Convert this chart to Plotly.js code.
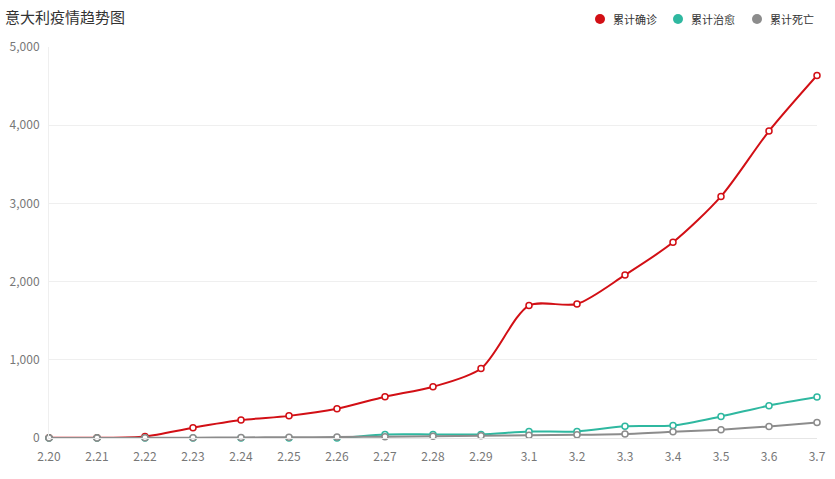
<!DOCTYPE html>
<html>
<head>
<meta charset="utf-8">
<script src="https://cdn.plot.ly/plotly-3.0.1.min.js"></script>
<style>html,body{margin:0;padding:0;background:#fff;}#chart{width:835px;height:479px;}</style>
</head>
<body>
<div id="chart"></div>
<script>
const dates = ['2.20','2.21','2.22','2.23','2.24','2.25','2.26','2.27','2.28','2.29','3.1','3.2','3.3','3.4','3.5','3.6','3.7'];
const confirmed = [3, 3, 20, 132, 229, 283, 374, 528, 655, 888, 1694, 1714, 2085, 2502, 3089, 3925, 4636];
const recovered = [0, 0, 0, 0, 1, 1, 1, 45, 46, 46, 83, 83, 149, 160, 276, 414, 523];
const deaths = [0, 1, 2, 3, 7, 10, 12, 17, 21, 29, 34, 41, 52, 79, 107, 148, 197];
const seriesNames = ['累计确诊', '累计治愈', '累计死亡'];
const colors = ['#d20f15', '#2fb8a0', '#8c8c8c'];
const values = [confirmed, recovered, deaths];

const traces = [];
[0, 1, 2].forEach(i => {
  traces.push({
    x: dates, y: values[i], type: 'scatter', mode: 'lines+markers',
    name: seriesNames[i], showlegend: false, cliponaxis: false,
    line: {color: colors[i], width: 2, shape: 'spline', smoothing: 0.8},
    marker: {symbol: 'circle', size: 6, color: '#fff', line: {color: colors[i], width: 1.5}},
    hoverinfo: 'x+y+name'
  });
});

// custom legend (top right), positions in pixels converted to paper coordinates
const plotL = 49, plotW = 768, plotB = 438, plotH = 391;
const px = v => (v - plotL) / plotW;
const py = v => (plotB - v) / plotH;
const legendDotX = [600, 678, 757];
const legendY = 19;
const shapes = [], annotations = [];
seriesNames.forEach((n, i) => {
  shapes.push({type: 'circle', xref: 'paper', yref: 'paper',
    x0: px(legendDotX[i] - 5), x1: px(legendDotX[i] + 5),
    y0: py(legendY + 5), y1: py(legendY - 5),
    fillcolor: colors[i], line: {width: 0}});
  annotations.push({xref: 'paper', yref: 'paper', x: px(legendDotX[i] + 11), y: py(legendY),
    xanchor: 'left', yanchor: 'middle', text: n, showarrow: false,
    font: {size: 11, color: '#333'}});
});

const layout = {
  width: 835, height: 479,
  margin: {l: 49, r: 18, t: 47, b: 41, autoexpand: false},
  paper_bgcolor: '#fff', plot_bgcolor: '#fff',
  font: {family: '"Noto Sans CJK SC", "Noto Sans", sans-serif', color: '#777'},
  title: {text: '意大利疫情趋势图', x: 0.006, xanchor: 'left', y: 0.962, yanchor: 'middle',
          font: {size: 15, color: '#333'}},
  showlegend: false,
  shapes: shapes,
  annotations: annotations,
  xaxis: {type: 'category', range: [0, 16], showgrid: false, zeroline: false,
          showline: true, linecolor: '#e6e6e6', linewidth: 1, ticklabelstandoff: 8,
          ticks: '', tickfont: {size: 12, color: '#777'}, fixedrange: true},
  yaxis: {range: [0, 5000], dtick: 1000, tickformat: ',d', showgrid: true, gridcolor: '#efefef',
          zeroline: false, showline: true, linecolor: '#efefef', ticks: '', ticklabelstandoff: 6,
          tickfont: {size: 12, color: '#777'}, fixedrange: true}
};

Plotly.newPlot('chart', traces, layout, {displayModeBar: false, staticPlot: true});
</script>
</body>
</html>
